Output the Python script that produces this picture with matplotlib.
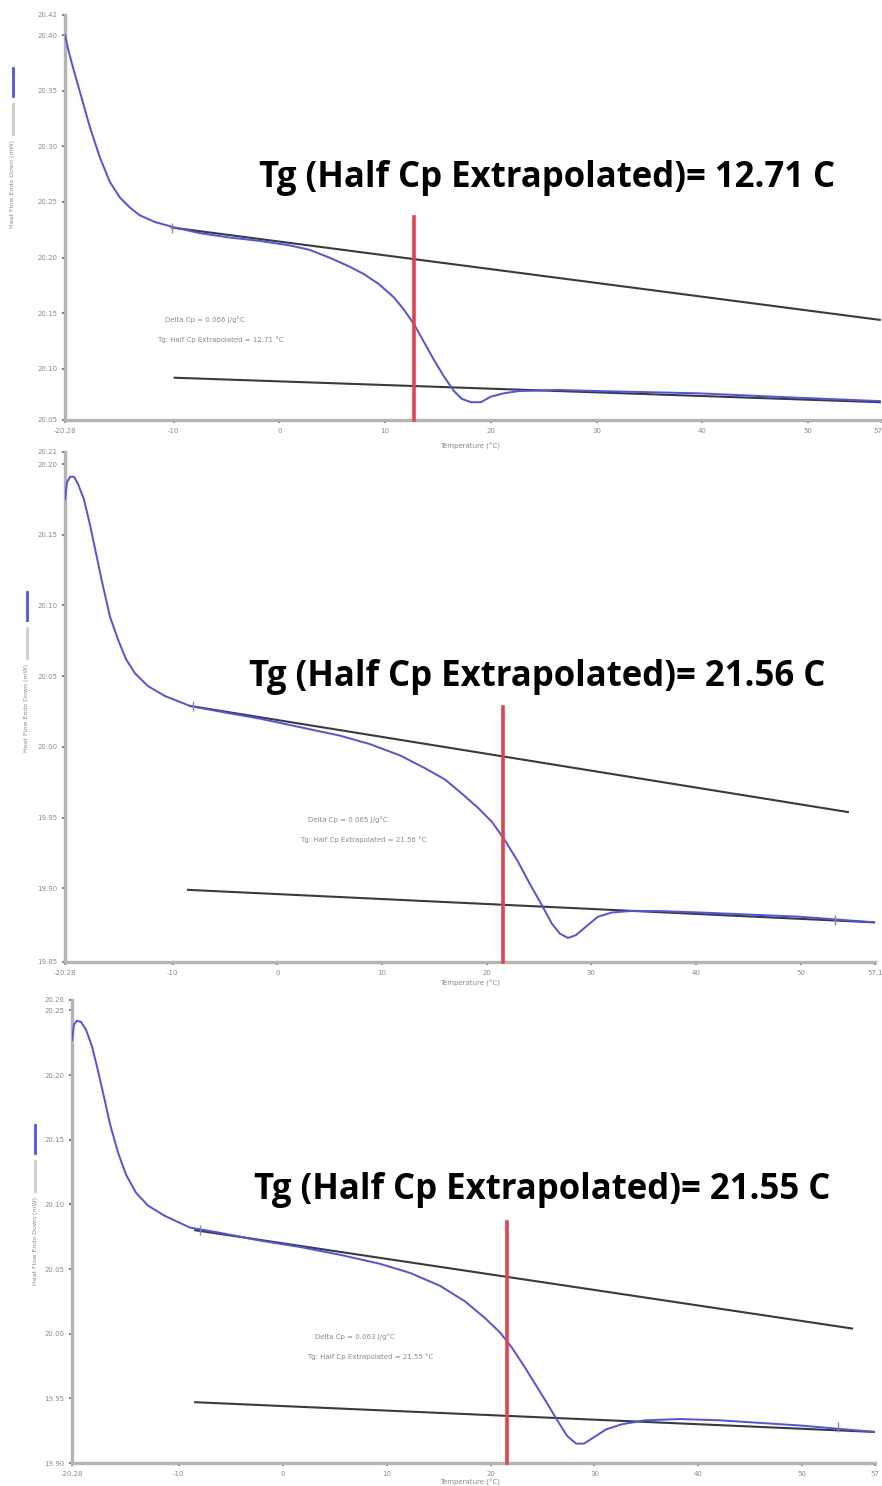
import numpy as np
import matplotlib
matplotlib.use("Agg")
import matplotlib.pyplot as plt
from matplotlib.lines import Line2D

# ---- panel 1 (Tg = 12.71 C) ----
p1_temp = [-20.28, -20.00, -19.62, -18.87, -17.92, -16.98, -16.04, -15.09, -14.15, -13.21,
           -11.79, -9.91, -7.55, -4.72, -1.89, 0.94, 2.83, 4.72, 6.60, 8.02,
           9.43, 10.85, 11.79, 12.74, 13.68, 14.62, 15.57, 16.51, 17.26, 18.11,
           19.06, 20.00, 21.23, 22.64, 26.42, 30.19, 39.62, 49.06, 56.79]
p1_flow = [20.400, 20.388, 20.374, 20.349, 20.317, 20.290, 20.268, 20.254, 20.245, 20.238,
           20.232, 20.227, 20.222, 20.218, 20.215, 20.211, 20.207, 20.200, 20.192, 20.185,
           20.176, 20.164, 20.153, 20.140, 20.124, 20.108, 20.093, 20.080, 20.073, 20.070,
           20.070, 20.075, 20.078, 20.080, 20.081, 20.080, 20.078, 20.074, 20.071]
p1_upper = ([-10.19, 56.79], [20.227, 20.144])
p1_lower = ([-9.91, 56.79], [20.092, 20.070])
p1_marks = ([-10.19], [20.227])
p1_tg, p1_tg_top = 12.71, 20.236
p1_dcp = "0.066"
p1_xlim = (-20.28, 57.0)
p1_ylim = (20.054, 20.418)
p1_xticks = [-20.28, -10, 0, 10, 20, 30, 40, 50, 57]
p1_yticks = [20.10, 20.15, 20.20, 20.25, 20.30, 20.35, 20.40]

# ---- panel 2 (Tg = 21.56 C) ----
p2_temp = [-20.28, -20.09, -19.80, -19.42, -19.04, -18.47, -17.89, -17.32, -16.75, -15.98,
           -15.22, -14.45, -13.59, -12.35, -10.73, -8.34, -5.47, -1.65, 2.17, 5.99,
           8.86, 11.73, 14.11, 16.02, 17.64, 19.17, 20.51, 21.75, 22.99, 24.14,
           25.29, 26.24, 27.01, 27.77, 28.53, 29.49, 30.63, 31.97, 33.69, 36.55,
           40.38, 49.94, 57.10]
p2_flow = [20.175, 20.187, 20.191, 20.191, 20.186, 20.175, 20.157, 20.137, 20.117, 20.092,
           20.076, 20.062, 20.052, 20.043, 20.036, 20.029, 20.025, 20.020, 20.014, 20.008,
           20.002, 19.994, 19.985, 19.977, 19.967, 19.957, 19.947, 19.934, 19.919, 19.903,
           19.888, 19.875, 19.868, 19.865, 19.867, 19.873, 19.880, 19.883, 19.884, 19.884,
           19.883, 19.880, 19.876]
p2_upper = ([-8.34, 54.51], [20.029, 19.954])
p2_lower = ([-8.53, 57.1], [19.899, 19.876])
p2_marks = ([-8.05, 53.27], [20.029, 19.878])
p2_tg, p2_tg_top = 21.56, 20.028
p2_dcp = "0.065"
p2_xlim = (-20.28, 57.1)
p2_ylim = (19.848, 20.2085)
p2_xticks = [-20.28, -10, 0, 10, 20, 30, 40, 50, 57.1]
p2_yticks = [19.90, 19.95, 20.00, 20.05, 20.10, 20.15, 20.20]

# ---- panel 3 (Tg = 21.55 C) ----
p3_temp = [-20.28, -20.09, -19.80, -19.41, -18.93, -18.35, -17.77, -17.20, -16.62, -15.85,
           -15.08, -14.12, -12.96, -11.33, -8.92, -6.04, -2.18, 1.67, 5.51, 9.36,
           12.25, 15.14, 17.54, 19.47, 20.91, 22.07, 23.22, 24.38, 25.53, 26.50,
           27.36, 28.23, 29.00, 29.96, 31.12, 32.66, 34.87, 38.24, 42.09, 49.79,
           57.00]
p3_flow = [20.227, 20.239, 20.242, 20.241, 20.235, 20.222, 20.203, 20.183, 20.162, 20.140,
           20.123, 20.109, 20.099, 20.091, 20.082, 20.078, 20.072, 20.067, 20.061, 20.054,
           20.047, 20.037, 20.025, 20.012, 20.001, 19.989, 19.975, 19.960, 19.945, 19.932,
           19.921, 19.915, 19.915, 19.920, 19.926, 19.930, 19.933, 19.934, 19.933, 19.929,
           19.924]
p3_upper = ([-8.43, 54.79], [20.080, 20.004])
p3_lower = ([-8.43, 57.0], [19.947, 19.924])
p3_marks = ([-7.96, 53.45], [20.080, 19.928])
p3_tg, p3_tg_top = 21.55, 20.086
p3_dcp = "0.063"
p3_xlim = (-20.28, 57.0)
p3_ylim = (19.900, 20.258)
p3_xticks = [-20.28, -10, 0, 10, 20, 30, 40, 50, 57]
p3_yticks = [19.95, 20.00, 20.05, 20.10, 20.15, 20.20, 20.25]

W, H = 882, 1486
BLUE = "#5050f2"
RED = "#e8404a"
DARK = "#3a3a3a"
GRAY = "#8a8a8a"

fig = plt.figure(figsize=(W / 100, H / 100), dpi=100)


def px_axes(left, top, right, bottom):
    return fig.add_axes([left / W, 1 - bottom / H, (right - left) / W, (bottom - top) / H])


def draw_panel(box, temp, flow, upper, lower, marks, tg, tg_top, dcp,
               xlim, ylim, xticks, yticks, title_xy, note_xy, legend_px, xlabel_y):
    ax = px_axes(*box)
    ax.plot(temp, flow, color=BLUE, lw=1.4, zorder=3, solid_joinstyle="round")
    ax.plot(*upper, color=DARK, lw=1.5, zorder=2)
    ax.plot(*lower, color=DARK, lw=1.5, zorder=2)
    ax.plot(*marks, ls="none", marker="|", ms=7, mew=1.0, color=GRAY, zorder=4)
    ax.plot([tg, tg], [tg_top, ylim[0]], color=RED, lw=2.6, zorder=5, clip_on=False)

    ax.set_xlim(*xlim)
    ax.set_ylim(*ylim)
    ax.set_xticks(xticks)
    ax.set_xticklabels([("%g" % v) if v != xlim[0] else "%.2f" % v for v in xticks])
    if box[2] > 878:
        ax.get_xticklabels()[-1].set_ha("right")
    yt = [ylim[0]] + list(yticks) + [ylim[1]]
    ax.set_yticks(yt)
    ax.set_yticklabels(["%.2f" % v for v in yt])
    ax.tick_params(axis="both", labelsize=5, labelcolor=GRAY, color="#666666",
                   length=2.5, width=1.2, pad=3)
    for s in ("top", "right"):
        ax.spines[s].set_visible(False)
    for s in ("left", "bottom"):
        ax.spines[s].set_color("#b4b4b4")
        ax.spines[s].set_linewidth(2.4)

    # annotation labels
    nx, ny = note_xy
    fig.text(nx / W, 1 - ny / H, "Delta Cp = %s J/g\u00b0C" % dcp,
             fontsize=5, color=GRAY, ha="left", va="center")
    fig.text((nx - 8) / W, 1 - (ny + 20) / H, "Tg: Half Cp Extrapolated = %.2f \u00b0C" % tg,
             fontsize=5, color=GRAY, ha="left", va="center")

    # big title
    tx, ty = title_xy
    fig.text(tx / W, 1 - ty / H, "Tg (Half Cp Extrapolated)= %.2f C" % tg,
             fontsize=25, fontweight="bold", family="Open Sans", color="black",
             ha="center", va="center")

    # y-axis label with series swatches
    lx, ly = legend_px
    fig.add_artist(Line2D([lx / W, lx / W], [1 - ly / H, 1 - (ly + 28) / H],
                          color=BLUE, lw=2.0))
    fig.add_artist(Line2D([lx / W, lx / W], [1 - (ly + 36) / H, 1 - (ly + 66) / H],
                          color="#cccccc", lw=2.0))
    fig.text(lx / W, 1 - (ly + 72) / H, "Heat Flow Endo Down (mW)", rotation=90,
             fontsize=4.5, color=GRAY, ha="center", va="top")

    fig.text(470 / W, 1 - xlabel_y / H, "Temperature (\u00b0C)",
             fontsize=5, color=GRAY, ha="center", va="center")
    return ax


draw_panel((65, 15, 882, 420), p1_temp, p1_flow, p1_upper, p1_lower,
           p1_marks, p1_tg, p1_tg_top, p1_dcp,
           p1_xlim, p1_ylim, p1_xticks, p1_yticks,
           (547, 178), (165, 320), (13, 68), 446)
draw_panel((65, 452, 875, 962), p2_temp, p2_flow, p2_upper, p2_lower,
           p2_marks, p2_tg, p2_tg_top, p2_dcp,
           p2_xlim, p2_ylim, p2_xticks, p2_yticks,
           (537, 677), (308, 820), (27, 592), 983)
draw_panel((72, 1000, 875, 1463), p3_temp, p3_flow, p3_upper, p3_lower,
           p3_marks, p3_tg, p3_tg_top, p3_dcp,
           p3_xlim, p3_ylim, p3_xticks, p3_yticks,
           (542, 1190), (315, 1337), (35, 1125), 1482)

fig.savefig("out.png", dpi=100)
